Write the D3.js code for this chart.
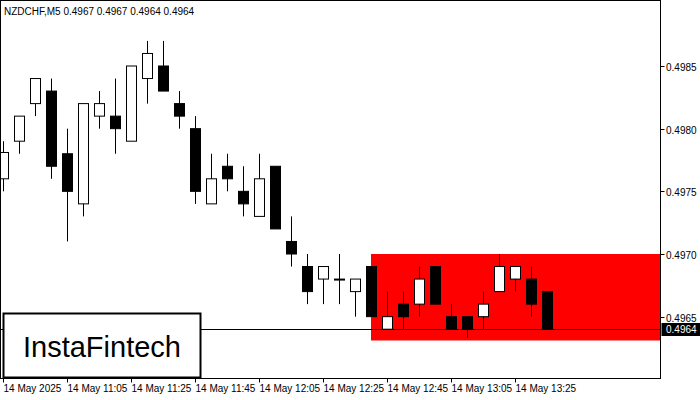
<!DOCTYPE html><html><head><meta charset="utf-8"><script src="https://d3js.org/d3.v7.min.js"></script>
<style>body{margin:0;background:#fff}svg text{font-family:"Liberation Sans",Arial,sans-serif}</style></head><body><svg id="c" width="700" height="400"></svg>
<script>
const times=["10:45","10:50","10:55","11:00","11:05","11:10","11:15","11:20","11:25","11:30","11:35","11:40","11:45","11:50","11:55","12:00","12:05","12:10","12:15","12:20","12:25","12:30","12:35","12:40","12:45","12:50","12:55","13:00","13:05","13:10","13:15","13:20","13:25","13:30","13:35"];
const opens=[0.4976,0.4979,0.4982,0.4983,0.4978,0.4974,0.4981,0.4981,0.4979,0.4984,0.4985,0.4982,0.4980,0.4974,0.4977,0.4975,0.4973,0.4977,0.4971,0.4969,0.4968,0.4968,0.4967,0.4969,0.4964,0.4966,0.4966,0.4969,0.4965,0.4965,0.4965,0.4967,0.4968,0.4968,0.4967];
const highs=[0.4979,0.4981,0.4984,0.4984,0.4980,0.4982,0.4983,0.4984,0.4985,0.4987,0.4987,0.4983,0.4981,0.4978,0.4978,0.4977,0.4978,0.4977,0.4973,0.4970,0.4969,0.4970,0.4968,0.4969,0.4967,0.4967,0.4969,0.4969,0.4966,0.4965,0.4967,0.4970,0.4969,0.4969,0.4967];
const lows=[0.4975,0.4978,0.4981,0.4976,0.4971,0.4973,0.4980,0.4978,0.4979,0.4982,0.4983,0.4980,0.4974,0.4974,0.4975,0.4973,0.4973,0.4972,0.4969,0.4966,0.4966,0.4966,0.4965,0.4965,0.4964,0.4964,0.4965,0.4966,0.4964,0.49633,0.4964,0.4967,0.4967,0.4965,0.4964];
const closes=[0.49781,0.4981,0.4984,0.4977,0.4975,0.4982,0.4982,0.4980,0.4985,0.4986,0.4983,0.4981,0.4975,0.4976,0.4976,0.4974,0.4976,0.4972,0.4970,0.4967,0.4969,0.4968,0.4968,0.4965,0.4965,0.4965,0.4968,0.4966,0.4964,0.4964,0.4966,0.4969,0.4969,0.4966,0.4964];
const yTicks=[0.4965,0.4970,0.4975,0.4980,0.4985];
const xLabels=[[0,"14 May 2025"],[4,"14 May 11:05"],[8,"14 May 11:25"],[12,"14 May 11:45"],[16,"14 May 12:05"],[20,"14 May 12:25"],[24,"14 May 12:45"],[28,"14 May 13:05"],[32,"14 May 13:25"]];
const zoneTop=0.4970, zoneBottom=0.49631, zoneStart=23, lastPrice=0.4964;
const svg=d3.select("#c");
const L=0.5,R=660.5,T=0.5,B=378.5;
const y=d3.scaleLinear().domain([0.4970,0.4985]).range([254,66]);
const x=d3.scaleLinear().domain([0,1]).range([3,19]);
svg.append("clipPath").attr("id","cp").append("rect").attr("x",L).attr("y",T).attr("width",R-L).attr("height",B-T);
const g=svg.append("g").attr("clip-path","url(#cp)");
g.append("rect").attr("x",x(zoneStart)).attr("y",y(zoneTop)).attr("width",R-x(zoneStart)).attr("height",y(zoneBottom)-y(zoneTop)).attr("fill","#ff0000");
g.append("line").attr("x1",L).attr("x2",R).attr("y1",Math.round(y(lastPrice))+0.5).attr("y2",Math.round(y(lastPrice))+0.5).attr("stroke","#000");
const c=g.selectAll(".k").data(times.map((t,i)=>i)).enter().append("g");
c.append("line").attr("x1",i=>Math.round(x(i))+0.5).attr("x2",i=>Math.round(x(i))+0.5).attr("y1",i=>y(highs[i])).attr("y2",i=>y(lows[i])).attr("stroke","#000");
c.append("rect").attr("x",i=>Math.round(x(i))-4.5).attr("width",10).attr("y",i=>y(Math.max(opens[i],closes[i]))).attr("height",i=>Math.max(1,Math.abs(y(opens[i])-y(closes[i])))).attr("fill",i=>closes[i]>=opens[i]?"#fff":"#000").attr("stroke","#000");
svg.append("rect").attr("x",L).attr("y",T).attr("width",R-L).attr("height",B-T).attr("fill","none").attr("stroke","#000");
yTicks.forEach(v=>{const yy=Math.round(y(v))+0.5;svg.append("line").attr("x1",R).attr("x2",R+4).attr("y1",yy).attr("y2",yy).attr("stroke","#000");svg.append("text").attr("x",666).attr("y",yy+4).attr("font-size",10).text(v.toFixed(4));});
const ly=Math.round(y(lastPrice));
svg.append("rect").attr("x",R+1).attr("y",ly-6).attr("width",39).attr("height",13).attr("fill","#000");
svg.append("text").attr("x",666).attr("y",ly+4).attr("font-size",10).attr("fill","#fff").text(lastPrice.toFixed(4));
xLabels.forEach(([i,s])=>{const xx=Math.round(x(i))+0.5;svg.append("line").attr("x1",xx).attr("x2",xx).attr("y1",B).attr("y2",B+4).attr("stroke","#000");svg.append("text").attr("x",xx).attr("y",392).attr("font-size",10).text(s);});
svg.append("text").attr("x",4).attr("y",15).attr("font-size",10).text("NZDCHF,M5  0.4967 0.4967 0.4964 0.4964");
svg.append("rect").attr("x",3.5).attr("y",313.5).attr("width",197).attr("height",64).attr("fill","#fff").attr("stroke","#000").attr("stroke-width",2);
svg.append("text").attr("x",102).attr("y",357).attr("text-anchor","middle").attr("font-size",29).attr("font-family","'Open Sans',sans-serif").text("InstaFintech");
</script></body></html>
